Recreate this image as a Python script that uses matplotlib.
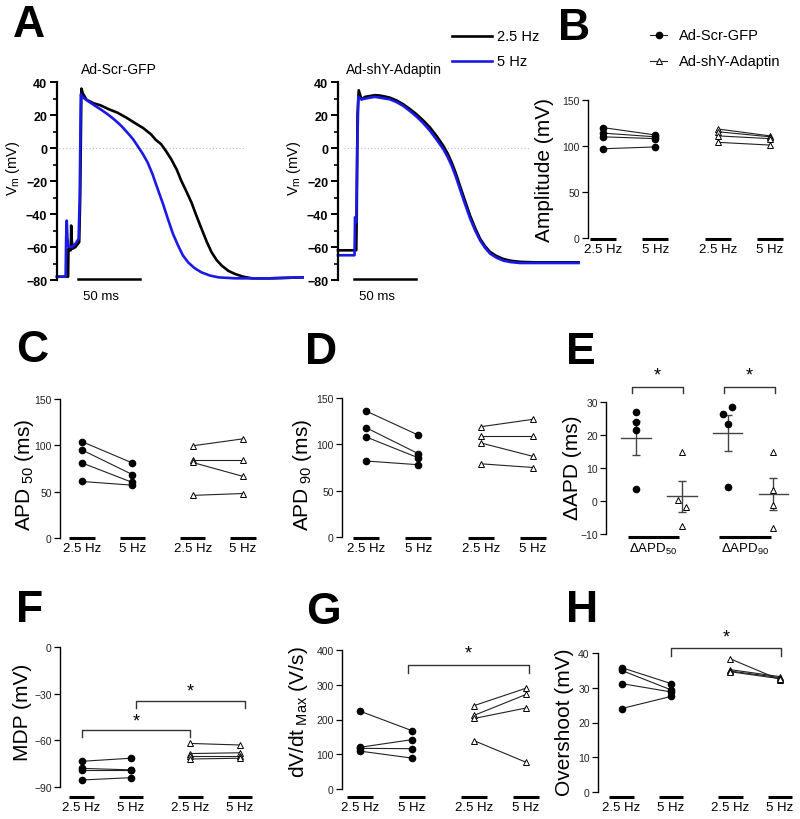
import numpy as np
import matplotlib
matplotlib.use("Agg")
import matplotlib.pyplot as plt

plt.rcParams['font.family'] = ['Liberation Sans', 'DejaVu Sans']
plt.rcParams['mathtext.fontset'] = 'custom'
plt.rcParams['mathtext.rm'] = 'Liberation Sans'
plt.rcParams['mathtext.it'] = 'Liberation Sans:italic'
plt.rcParams['mathtext.bf'] = 'Liberation Sans:bold'

# ---- data ----
# panel A traces (time in ms, Vm in mV)
t_scr_25 = [0, 9.0, 9.3, 10.5, 11.2, 11.5, 12.0, 12.8, 15.0, 18.0, 18.8, 19.8, 21.0, 24.0, 30.0, 35.2,
            42.0, 49.0, 56.0, 62.6, 70.0, 76.2, 80.0, 84.4, 88.5, 92.6, 97.0, 100.8, 105.0, 109.0,
            113.0, 117.2, 121.5, 125.4, 129.5, 133.6, 139.0, 144.5, 151.0, 158.2, 171.9, 199.0]
v_scr_25 = [-78, -78, -61, -62, -62, -47, -56, -61, -60, -57, -30, 36, 33, 29.2, 27, 25.9,
            23.5, 21.4, 18.5, 15.4, 12, 8.3, 5, 2.3, -2, -6.8, -13, -19.9, -26.5, -33,
            -41, -49, -57, -63.3, -68, -71.3, -74.5, -76.4, -78, -79, -79, -78.4]
t_scr_5 = [0, 7.0, 7.4, 7.9, 8.5, 9.5, 12.0, 15.0, 17.5, 18.4, 19.3, 20.5, 24.0, 27.0, 31.0, 35.2,
           41.0, 46.2, 52.0, 57.1, 61.5, 65.3, 69.5, 73.5, 77.5, 81.7, 86.0, 89.9, 94.0, 98.1,
           102.0, 106.3, 111.5, 117.2, 124.0, 130.9, 144.5, 172.0, 199.0]
v_scr_5 = [-78, -78, -55, -44, -55, -60, -60, -58, -55, -30, 32.5, 31, 29, 27.5, 25.5, 23.5,
           20.5, 17.4, 13.5, 9.3, 5.5, 1.3, -3.5, -8.8, -16, -25, -34, -43, -52, -59,
           -65, -69.3, -72.8, -75.4, -77.3, -78.4, -79, -79, -78.4]
t_shy_25 = [0, 14.8, 15.2, 15.8, 16.8, 19.0, 22.0, 25.8, 30.0, 33.9, 38.0, 42.0, 47.5, 52.9, 58.3,
            63.7, 69.2, 74.6, 80.0, 85.4, 89.0, 92.2, 95.6, 98.9, 103.0, 107.1, 111.2, 115.2,
            119.2, 123.3, 128.5, 134.2, 140.5, 147.7, 160.0, 195.0]
v_shy_25 = [-62, -62, -40, 20, 35, 29.5, 31, 31.5, 32, 31.8, 31.2, 30.5, 28.8, 26.5, 23.6,
            20.4, 16.6, 12.4, 7.2, 1.3, -3.5, -8.8, -15.5, -23, -32, -41, -48.5, -55,
            -59.5, -63, -65.5, -67.3, -68.4, -69, -69.3, -69.3]
t_shy_5 = [0, 13.4, 13.8, 14.8, 15.6, 16.5, 19.0, 25.8, 30.0, 33.9, 42.0, 47.5, 52.9, 58.3, 63.7,
           69.2, 74.6, 80.0, 85.4, 89.0, 92.2, 95.6, 98.9, 103.0, 107.1, 111.2, 115.2, 119.2,
           123.3, 128.5, 134.2, 140.5, 147.7, 195.0]
v_shy_5 = [-65, -65, -42, -45, 0, 31, 29.5, 30.5, 31, 30.5, 29.5, 27.8, 25.5, 22.4, 19,
           15, 10.4, 5, -0.7, -5.6, -10.8, -17.5, -25, -34, -42.7, -50, -56, -60.5,
           -64, -66.5, -68.3, -69.2, -69.7, -69.7]

freq_labels = ['2.5 Hz', '5 Hz', '2.5 Hz', '5 Hz']

amp_scr_25 = [120, 114, 110, 97]
amp_scr_5 = [112, 110, 108, 99]
amp_shy_25 = [118.5, 115.5, 111, 104]
amp_shy_5 = [111, 110, 108, 101]

apd50_scr_25 = [104, 95, 81, 61]
apd50_scr_5 = [81, 68.5, 60, 57]
apd50_shy_25 = [99.5, 84.5, 81.5, 46]
apd50_shy_5 = [107, 84.5, 66.5, 48]

apd90_scr_25 = [136, 118, 108, 82]
apd90_scr_5 = [110, 90, 85.5, 78]
apd90_shy_25 = [119, 109.5, 101.5, 79]
apd90_shy_5 = [127, 109.5, 87, 75]

dapd_labels = ['ΔAPD$_{\\mathregular{50}}$', 'ΔAPD$_{\\mathregular{90}}$']
dapd50_scr = [27, 24, 21.4, 3.7]
dapd50_shy = [14.8, 0.3, -1.8, -7.6]
dapd90_scr = [26.5, 28.4, 23.3, 4.2]
dapd90_shy = [15, 3.4, -1.2, -8.3]

mdp_scr_25 = [-73.5, -78, -79, -85.5]
mdp_scr_5 = [-71.5, -79, -79, -84]
mdp_shy_25 = [-62, -68.5, -70, -72]
mdp_shy_5 = [-63, -68, -70, -71.5]

dvdt_scr_25 = [224, 120, 117, 109]
dvdt_scr_5 = [168, 142, 116, 89]
dvdt_shy_25 = [240, 212, 203, 139]
dvdt_shy_5 = [290, 272, 233, 77]

over_scr_25 = [35.8, 35, 31.2, 24]
over_scr_5 = [31.2, 29.4, 28.8, 27.5]
over_shy_25 = [38.3, 35.2, 34.8, 34.6]
over_shy_5 = [32.3, 33.2, 32.9, 32.6]

# ---- layout helpers (pixel coords from top-left) ----
W, H = 800, 820
fig = plt.figure(figsize=(8, 8.2), dpi=100)
POS = [1, 2, 3.2, 4.2]
DARK = '#222222'


def px_axes(x0, x1, ytop, ybot):
    return fig.add_axes([x0 / W, 1 - ybot / H, (x1 - x0) / W, (ybot - ytop) / H])


def cat_axes(spine, right, px_a, px_b, pos_a, pos_b, top_px, low_px, bar_px, vtop, vlow, ticks,
             positions, labels, half=0.25):
    u = (px_b - px_a) / (pos_b - pos_a)
    xl = pos_a - (px_a - spine) / u
    xr = pos_a + (right - px_a) / u
    s = (low_px - top_px) / (vtop - vlow)
    ybar = vlow - (bar_px - low_px) / s
    ax = px_axes(spine, right, top_px, bar_px)
    ax.patch.set_alpha(0)
    ax.set_xlim(xl, xr)
    ax.set_ylim(ybar, vtop)
    for sp in ['top', 'right', 'bottom']:
        ax.spines[sp].set_visible(False)
    ax.spines['left'].set_bounds(vlow, vtop)
    ax.spines['left'].set_linewidth(1.0)
    ax.set_yticks(ticks)
    ax.tick_params(axis='y', length=4, width=0.9, labelsize=7.5, labelcolor=DARK, pad=2)
    for p in positions:
        ax.plot([p - half, p + half], [ybar, ybar], color='k', lw=2.2, clip_on=False,
                solid_capstyle='butt')
    ax.set_xticks(positions)
    ax.set_xticklabels(labels)
    ax.tick_params(axis='x', length=0, pad=3, labelsize=9.5)
    return ax


def paired(ax, s25, s5, h25, h5):
    for a, b in zip(s25, s5):
        ax.plot(POS[:2], [a, b], '-o', color=DARK, lw=0.8, ms=4.5, mfc='k', mec='k', clip_on=False)
    for a, b in zip(h25, h5):
        ax.plot(POS[2:], [a, b], '-^', color=DARK, lw=0.8, ms=5, mfc='white', mec='k', mew=0.7,
                clip_on=False)


def bracket(ax, x0, x1, y, ydrop, ystar):
    ax.plot([x0, x0, x1, x1], [ydrop, y, y, ydrop], color='#333333', lw=1.0, clip_on=False)
    ax.text((x0 + x1) / 2, ystar, '*', ha='center', va='center', fontsize=13, clip_on=False)


# overlay axes for free text
ov = fig.add_axes([0, 0, 1, 1], zorder=5)
ov.set_xlim(0, W)
ov.set_ylim(H, 0)
ov.axis('off')

for letter, x, y in [('A', 13, 5), ('B', 558, 8), ('C', 16, 330), ('D', 305, 332), ('E', 566, 332),
                     ('F', 16, 590), ('G', 306, 592), ('H', 566, 590)]:
    ov.text(x, y, letter, fontsize=32, fontweight='bold', ha='left', va='top')

# ---- panel A ----
for x0, tt, vv, tb, vb, title, bar0, dot0 in [
        (57, t_scr_25, v_scr_25, t_scr_5, v_scr_5, 'Ad-Scr-GFP', 17, 2),
        (338, t_shy_25, v_shy_25, t_shy_5, v_shy_5, 'Ad-shY-Adaptin', 13, 5)]:
    ax = px_axes(x0, x0 + 243, 83, 281)
    ax.patch.set_alpha(0)
    ax.set_xlim(0, 197)
    ax.set_ylim(-80, 40)
    for sp in ['top', 'right', 'bottom']:
        ax.spines[sp].set_visible(False)
    ax.spines['left'].set_linewidth(1.6)
    ax.set_xticks([])
    ax.set_yticks(np.arange(-80, 41, 20))
    ax.set_yticks(np.arange(-70, 40, 20), minor=True)
    ax.tick_params(axis='y', which='major', length=5, width=1.4, labelsize=9, pad=2)
    ax.tick_params(axis='y', which='minor', length=3, width=1.2)
    for lab in ax.get_yticklabels():
        lab.set_fontweight('bold')
    ax.plot([dot0, dot0 + 151], [0, 0], ls=(0, (1, 2)), color='#bbbbbb', lw=0.8)
    ax.plot(tt, vv, color='black', lw=1.9, clip_on=False, solid_joinstyle='round')
    ax.plot(tb, vb, color='#1a1ae6', lw=1.9, clip_on=False, solid_joinstyle='round')
    ax.plot([bar0, bar0 + 50], [-79.2, -79.2], color='black', lw=1.8, clip_on=False)
    ax.text(bar0 + 4, -90, '50 ms', fontsize=9.5, ha='left', va='center', clip_on=False)
    ov.text(x0 + 62 if x0 < 100 else x0 + 56, 70, title, fontsize=10, ha='center', va='center')
    ov.text(x0 - 44, 168, 'V$_{\\mathregular{m}}$ (mV)', rotation=90, fontsize=10.5,
            ha='center', va='center')

# legend for A
ov.plot([452, 492], [37, 37], color='black', lw=1.9)
ov.plot([452, 492], [62, 62], color='#1a1ae6', lw=1.9)
ov.text(497, 37, '2.5 Hz', fontsize=10.5, va='center')
ov.text(497, 62, '5 Hz', fontsize=10.5, va='center')

# legend for B
ov.plot([650, 667], [36, 36], '-', color=DARK, lw=0.8)
ov.plot([658.5], [36], 'o', color='k', ms=4.5)
ov.plot([650, 667], [62, 62], '-', color=DARK, lw=0.8)
ov.plot([658.5], [62], '^', mfc='white', mec='k', mew=0.7, ms=5)
ov.text(679, 36, 'Ad-Scr-GFP', fontsize=10.5, va='center')
ov.text(679, 62, 'Ad-shY-Adaptin', fontsize=10.5, va='center')

# ---- panel B ----
axB = cat_axes(588, 790, 603, 770, 1, 4.2, 101, 239, 240, 150, 0, [0, 50, 100, 150], POS, freq_labels)
paired(axB, amp_scr_25, amp_scr_5, amp_shy_25, amp_shy_5)
ov.text(545, 170, 'Amplitude (mV)', rotation=90, fontsize=15, ha='center', va='center')

# ---- panel C ----
axC = cat_axes(60, 262, 82, 243, 1, 4.2, 400, 539, 539, 150, 0, [0, 50, 100, 150], POS, freq_labels)
paired(axC, apd50_scr_25, apd50_scr_5, apd50_shy_25, apd50_shy_5)
ov.text(24, 475, 'APD$_{\\mathregular{\\ 50}}$ (ms)', rotation=90, fontsize=15, ha='center', va='center')

# ---- panel D ----
axD = cat_axes(342, 550, 366, 533, 1, 4.2, 399, 538, 539, 150, 0, [0, 50, 100, 150], POS, freq_labels)
paired(axD, apd90_scr_25, apd90_scr_5, apd90_shy_25, apd90_shy_5)
ov.text(302, 475, 'APD$_{\\mathregular{\\ 90}}$ (ms)', rotation=90, fontsize=15, ha='center', va='center')

# ---- panel E ----
axE = cat_axes(606, 795, 653.5, 745, 0, 1, 403, 535, 538, 30, -10, [-10, 0, 10, 20, 30], [0, 1],
               dapd_labels, half=0.28)
jit_scr = [[0, 0, 0, 0], [-0.045, 0.045, 0, 0]]
jit_shy = [[0, -0.047, 0.047, 0], [0, 0, 0, 0]]
for g, (sc, sh) in enumerate([(dapd50_scr, dapd50_shy), (dapd90_scr, dapd90_shy)]):
    for xc, vals, mk, jit in [(g - 0.19, sc, 'o', jit_scr[g]), (g + 0.31, sh, '^', jit_shy[g])]:
        vals = np.array(vals)
        m = vals.mean()
        se = vals.std(ddof=1) / np.sqrt(len(vals))
        axE.plot([xc - 0.16, xc + 0.16], [m, m], color='#444444', lw=1.0)
        axE.errorbar([xc], [m], yerr=[se], fmt='none', ecolor='#444444', elinewidth=1.0,
                     capsize=3, capthick=1.0)
        if mk == 'o':
            axE.plot(xc + np.array(jit), vals, 'o', color='k', ms=4.5, clip_on=False)
        else:
            axE.plot(xc + np.array(jit), vals, '^', mfc='white', mec='k', mew=0.7, ms=5, clip_on=False)
bracket(axE, -0.235, 0.32, 34.5, 32.6, 38.3)
bracket(axE, 0.77, 1.33, 34.5, 32.6, 38.3)
ov.text(573, 468, 'ΔAPD (ms)', rotation=90, fontsize=15, ha='center', va='center')

# ---- panel F ----
axF = cat_axes(60, 262, 81.5, 240, 1, 4.2, 648, 788, 798, 0, -90, [-90, -60, -30, 0], POS, freq_labels)
paired(axF, mdp_scr_25, mdp_scr_5, mdp_shy_25, mdp_shy_5)
bracket(axF, 1, 3.2, -53.2, -58, -47.5)
bracket(axF, 2.1, 4.3, -34.5, -39.4, -28.5)
ov.text(23, 712, 'MDP (mV)', rotation=90, fontsize=15, ha='center', va='center')

# ---- panel G ----
axG = cat_axes(342, 545, 360, 526, 1, 4.2, 651, 790, 798, 400, 0, [0, 100, 200, 300, 400], POS,
               freq_labels)
paired(axG, dvdt_scr_25, dvdt_scr_5, dvdt_shy_25, dvdt_shy_5)
bracket(axG, 1.92, 4.26, 357, 334, 390)
ov.text(299, 712, 'dV/dt$_{\\mathregular{\\ Max}}$ (V/s)', rotation=90, fontsize=15, ha='center',
        va='center')

# ---- panel H ----
axH = cat_axes(598, 797, 621.5, 780, 1, 4.2, 654, 793, 798, 40, 0, [0, 10, 20, 30, 40], POS, freq_labels)
paired(axH, over_scr_25, over_scr_5, over_shy_25, over_shy_5)
bracket(axH, 2.0, 4.22, 41.4, 39.1, 44.6)
ov.text(564, 722, 'Overshoot (mV)', rotation=90, fontsize=15, ha='center', va='center')

fig.savefig('out.png', dpi=100)
